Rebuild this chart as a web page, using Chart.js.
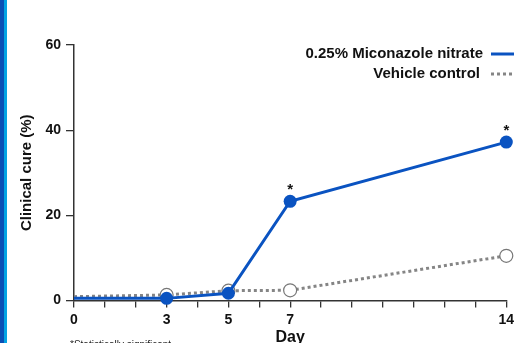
<!DOCTYPE html>
<html>
<head>
<meta charset="utf-8">
<script src="https://cdn.jsdelivr.net/npm/chart.js@4/dist/chart.umd.min.js"></script>
<style>
  html, body { margin: 0; padding: 0; background: #fff; }
  #wrap { width: 514px; height: 343px; position: relative; }
</style>
</head>
<body>
<div id="wrap"><canvas id="cureChart" width="514" height="343"></canvas></div>
<script>
// day of assessment
var days = [0, 3, 5, 7, 14];
// clinical cure (%) per group
var miconazole = [0.5, 0.5, 1.7, 23.3, 37.2];
var vehicle = [0.9, 1.3, 2.3, 2.4, 10.5];
// which miconazole points get the significance star
var significant = [false, false, false, true, true];
// labels shown on the x axis
var dayLabels = [0, 3, 5, 7, 14];
var yTicks = [0, 20, 40, 60];
var seriesNames = ["0.25% Miconazole nitrate", "Vehicle control"];
var footnote = "*Statistically significant";

var blue = "#0a53c1";
var grey = "#858585";
var fontName = "'Liberation Sans', Arial, sans-serif";

window.onload = function(){

var extras = {
  id: 'extras',
  beforeDraw: function(chart){
    var c = chart.ctx;
    // coloured strip on the left edge
    c.save();
    c.fillStyle = "#0a4fb5";
    c.fillRect(0, 0, 4, chart.height);
    c.fillStyle = "#03a3e3";
    c.fillRect(4, 0, 3, chart.height);
    c.restore();
  },
  afterDraw: function(chart){
    var c = chart.ctx;
    c.save();
    // stars over significant points
    var meta = chart.getDatasetMeta(0);
    c.fillStyle = "#111";
    c.font = "bold 15px " + fontName;
    c.textAlign = "center";
    c.textBaseline = "alphabetic";
    for (var i = 0; i < significant.length; i++) {
      if (significant[i]) {
        var p = meta.data[i];
        c.fillText("*", p.x, p.y - 7);
      }
    }
    // legend, text right aligned with sample on the right
    c.font = "bold 15px " + fontName;
    c.textAlign = "right";
    c.textBaseline = "middle";
    c.fillStyle = "#111";
    c.fillText(seriesNames[0], 483, 54);
    c.fillText(seriesNames[1], 480, 74);
    c.lineWidth = 3;
    c.strokeStyle = blue;
    c.beginPath(); c.moveTo(491, 54); c.lineTo(516, 54); c.stroke();
    c.strokeStyle = grey;
    c.setLineDash([3, 3]);
    c.beginPath(); c.moveTo(491, 74); c.lineTo(516, 74); c.stroke();
    c.setLineDash([]);
    // footnote, cut by the bottom edge
    c.font = "10px " + fontName;
    c.textAlign = "left";
    c.textBaseline = "top";
    c.fillStyle = "#222";
    c.fillText(footnote, 70, 340);
    c.restore();
  }
};

var noSidePad = function(s){ s.paddingLeft = 0; s.paddingRight = 0; };

var ctx = document.getElementById("cureChart").getContext('2d');
var cureChart = new Chart(ctx, {
  type: 'line',
  data: {
    datasets: [{
      label: seriesNames[0],
      data: days.map(function(d, i){ return {x: d, y: miconazole[i]}; }),
      borderColor: blue,
      backgroundColor: blue,
      borderWidth: 3,
      pointRadius: [0, 6.5, 6.5, 6.5, 6.5],
      pointBackgroundColor: blue,
      pointBorderColor: blue,
      pointBorderWidth: 0,
      clip: false,
      tension: 0
    }, {
      label: seriesNames[1],
      data: days.map(function(d, i){ return {x: d, y: vehicle[i]}; }),
      borderColor: grey,
      borderWidth: 3,
      borderDash: [3, 3],
      pointRadius: [0, 6.5, 6.5, 6.5, 6.5],
      pointBackgroundColor: "#fff",
      pointBorderColor: "#777",
      pointBorderWidth: 1.2,
      clip: false,
      tension: 0
    }]
  },
  options: {
    responsive: false,
    animation: false,
    layout: { padding: { left: 0, right: 6, top: 45, bottom: 0 } },
    plugins: {
      legend: { display: false },
      tooltip: { enabled: false }
    },
    scales: {
      x: {
        type: 'linear',
        min: 0,
        max: 14,
        afterFit: function(s){ s.height = 42.5; noSidePad(s); },
        afterUpdate: noSidePad,
        ticks: {
          stepSize: 1,
          autoSkip: false,
          maxRotation: 0,
          padding: 4,
          color: "#111",
          font: { family: fontName, size: 14, weight: 'bold' },
          callback: function(v){ return dayLabels.indexOf(v) >= 0 ? String(v) : ''; }
        },
        grid: { drawOnChartArea: false, tickLength: 7, color: "#333", lineWidth: 1.3 },
        border: { color: "#333", width: 1.5 },
        title: {
          display: true,
          text: 'Day',
          color: "#111",
          font: { family: fontName, size: 16, weight: 'bold' },
          padding: { top: 0, bottom: -4 }
        }
      },
      y: {
        min: 0,
        max: 60,
        afterFit: function(s){ s.width = 74; },
        afterBuildTicks: function(s){ s.ticks = yTicks.map(function(v){ return {value: v}; }); },
        ticks: {
          padding: 5,
          color: "#111",
          font: { family: fontName, size: 14, weight: 'bold' }
        },
        grid: { drawOnChartArea: false, tickLength: 8, color: "#333", lineWidth: 1.3 },
        border: { color: "#333", width: 1.5 },
        title: {
          display: true,
          text: 'Clinical cure (%)',
          color: "#111",
          font: { family: fontName, size: 15, weight: 'bold' },
          padding: { top: 18, bottom: 0 }
        }
      }
    }
  },
  plugins: [extras]
});

}
</script>
</body>
</html>
